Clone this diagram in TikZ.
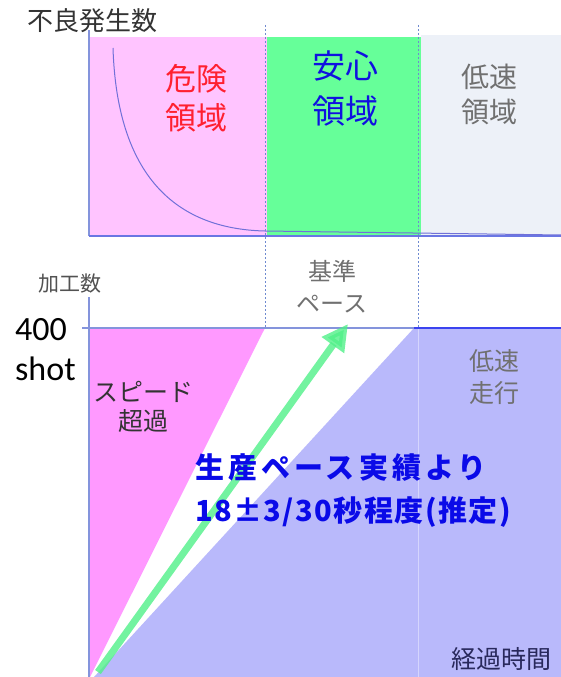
\documentclass[tikz,border=0pt]{standalone}
\usepackage{fontspec}
\setmainfont{Noto Sans CJK JP}
\newfontfamily\latinfont{Carlito}
\usetikzlibrary{arrows.meta}
\definecolor{toppink}{HTML}{FFC4FF}
\definecolor{topgreen}{HTML}{66FF99}
\definecolor{topgray}{HTML}{EDF1F8}
\definecolor{botpink}{HTML}{FF99FF}
\definecolor{botpurple}{HTML}{B9B9FB}
\definecolor{axisblue}{HTML}{8494DC}
\definecolor{dashblue}{HTML}{6F8AD0}
\definecolor{curveblue}{HTML}{7070D8}
\definecolor{arrowgreen}{HTML}{50F088}
\definecolor{redtxt}{HTML}{FF2030}
\definecolor{bluetxt}{HTML}{1010E0}
\definecolor{graytxt}{HTML}{707070}
\definecolor{darktxt}{HTML}{333333}
\definecolor{boldblue}{HTML}{0A0AE8}
\tikzset{
  lbl/.style={inner sep=0pt, align=center},
  axisline/.style={draw=axisblue, line width=1.4pt},
  divline/.style={draw=dashblue, line width=0.9pt, dash pattern=on 2pt off 2pt},
}
\begin{document}
\begin{tikzpicture}[x=1pt,y=-1pt]
\useasboundingbox (0,0) rectangle (561,677);
% ---------- top chart ----------
\fill[toppink] (89,37) rectangle (267,236);
\fill[topgreen] (267,37) rectangle (421,236);
\fill[topgray] (421,35) rectangle (561,236);
\draw[axisline] (89,30) -- (89,236);
\draw[axisline, draw=axisblue!80!blue] (89,236) -- (561,236);
\draw[curveblue, line width=1pt] (113,48) .. controls (117,175) and (175,229) .. (265,231) -- (561,235);
\node[lbl, anchor=west, text=darktxt, font=\fontsize{26}{30}\selectfont] (t1) at (27,21) {不良発生数};
\node[lbl, text=redtxt, font=\fontsize{31}{39}\selectfont] (t2) at (196,98.5) {危険\\領域};
\node[lbl, text=bluetxt, font=\fontsize{33}{45}\selectfont] (t3) at (345,88.5) {安心\\領域};
\node[lbl, text=graytxt, font=\fontsize{28}{35}\selectfont] (t4) at (489,94.5) {低速\\領域};
% ---------- bottom chart ----------
\fill[botpink] (89,328) -- (265,328) -- (90,677) -- (89,677) -- cycle;
\fill[botpurple] (94,677) -- (414,328) -- (561,328) -- (561,677) -- cycle;
\draw[botpurple!60!white, line width=0.6pt] (418,328) -- (418,677);
\draw[axisline] (89,297) -- (89,677);
\draw[draw=axisblue, line width=1.2pt] (82,328) -- (561,328);
\draw[draw=blue!55!axisblue, line width=1.4pt] (414,328) -- (561,328);
\draw[divline] (265,25) -- (265,328);
\draw[divline] (418,25) -- (418,328);
\coordinate (a0) at (98,672);
\coordinate (a1) at (348,324);
\draw[arrowgreen, opacity=0.8, line width=7pt, -{Triangle[length=26pt,width=26pt]}] (a0) -- (a1);
\node[lbl, text=darktxt!85!white, font=\fontsize{21}{25}\selectfont] (b1) at (70,284) {加工数};
\node[lbl, anchor=west, align=left, text=black, font=\latinfont\fontsize{34}{40}\selectfont] (b2) at (15,350) {400\\shot};
\node[lbl, text=darktxt, font=\fontsize{25}{29}\selectfont] (b3) at (143,406.5) {スピード\\超過};
\node[lbl, text=graytxt, font=\fontsize{24}{32}\selectfont] (b4) at (332,287) {基準\\ペース};
\node[lbl, text=graytxt, font=\fontsize{25}{32}\selectfont] (b5) at (494,377) {低速\\走行};
\node[lbl, text=darktxt!80!blue, font=\fontsize{25}{30}\selectfont] (b6) at (501,659) {経過時間};
\node[lbl, anchor=west, text=boldblue, font=\bfseries\fontsize{29}{34}\selectfont\addfontfeatures{LetterSpace=14}] (b7) at (195,468) {生産ペース実績より};
\node[lbl, anchor=west, text=boldblue, font=\bfseries\fontsize{29}{34}\selectfont\addfontfeatures{LetterSpace=5}] (b8) at (195,512) {18±3/30秒程度(推定)};
\end{tikzpicture}
\end{document}
